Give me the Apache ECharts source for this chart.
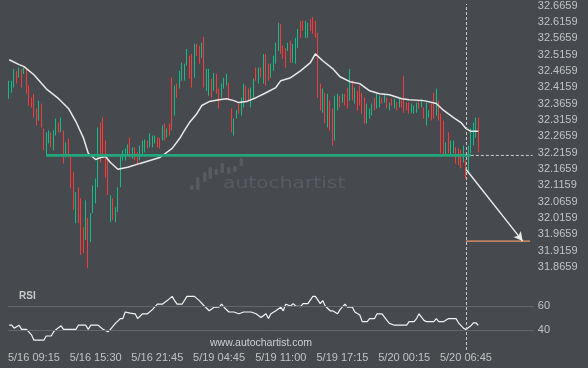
<!DOCTYPE html>
<html><head><meta charset="utf-8">
<script src="https://cdn.jsdelivr.net/npm/echarts@6/dist/echarts.min.js"></script>
<style>html,body{margin:0;padding:0;background:#464a4f;}#c{width:588px;height:368px;}</style>
</head><body><div id="c"></div>
<script>
// ---- data ----
const slotCount = 213; // bar slots on the time axis (incl. projection area)
const tickBars = [10, 35, 60, 85, 110, 135, 160, 185];
const tickLabels = ['5/16 09:15','5/16 15:30','5/16 21:45','5/19 04:45','5/19 11:00','5/19 17:15','5/20 00:15','5/20 06:45'];
const priceTicks = [31.8659,31.9159,31.9659,32.0159,32.0659,32.1159,32.1659,32.2159,32.2659,32.3159,32.3659,32.4159,32.4659,32.5159,32.5659,32.6159,32.6659];
const rsiTicks = [40, 60];
// [open, close, low, high]
const candles = [
[32.387,32.430,32.381,32.436],[32.404,32.431,32.399,32.436],[32.421,32.466,32.415,32.472],[32.461,32.432,32.427,32.466],
[32.449,32.471,32.445,32.476],[32.467,32.421,32.415,32.472],[32.459,32.473,32.457,32.476],[32.470,32.402,32.396,32.476],
[32.415,32.366,32.360,32.421],[32.380,32.358,32.354,32.384],[32.390,32.329,32.323,32.396],[32.346,32.304,32.299,32.351],
[32.320,32.369,32.314,32.375],[32.360,32.299,32.293,32.366],[32.284,32.229,32.223,32.290],[32.213,32.272,32.207,32.278],
[32.248,32.280,32.244,32.284],[32.274,32.236,32.232,32.278],[32.229,32.278,32.223,32.284],[32.273,32.315,32.268,32.320],
[32.305,32.281,32.278,32.308],[32.282,32.319,32.278,32.323],[32.278,32.190,32.183,32.284],[32.205,32.243,32.201,32.247],
[32.254,32.206,32.201,32.259],[32.201,32.113,32.107,32.207],[32.150,32.046,32.040,32.156],[32.006,32.089,32.000,32.095],
[32.104,32.006,32.000,32.110],[32.070,31.909,31.903,32.076],[31.982,31.915,31.909,31.988],[31.955,32.064,31.949,32.070],
[32.010,31.870,31.863,32.016],[31.948,32.025,31.942,32.031],[32.037,32.110,32.031,32.116],[32.067,32.131,32.061,32.137],
[32.116,32.287,32.110,32.293],[32.302,32.192,32.186,32.308],[32.317,32.207,32.201,32.323],[32.247,32.146,32.140,32.253],
[32.201,32.092,32.086,32.207],[32.009,32.080,32.003,32.086],[32.071,32.014,32.009,32.076],[32.007,32.045,32.003,32.049],
[32.040,32.104,32.034,32.110],[32.116,32.201,32.110,32.207],[32.195,32.220,32.192,32.223],[32.195,32.225,32.192,32.229],
[32.213,32.238,32.210,32.241],[32.257,32.206,32.201,32.262],[32.201,32.229,32.198,32.232],[32.228,32.196,32.192,32.232],
[32.213,32.181,32.177,32.217],[32.196,32.234,32.192,32.238],[32.211,32.249,32.207,32.253],[32.220,32.252,32.217,32.256],
[32.250,32.232,32.229,32.253],[32.236,32.271,32.232,32.275],[32.236,32.265,32.232,32.268],[32.247,32.265,32.244,32.268],
[32.259,32.235,32.232,32.262],[32.258,32.232,32.229,32.262],[32.257,32.295,32.253,32.299],[32.300,32.258,32.253,32.305],
[32.265,32.287,32.262,32.290],[32.301,32.272,32.268,32.305],[32.439,32.290,32.284,32.445],[32.335,32.415,32.329,32.421],
[32.423,32.388,32.384,32.427],[32.417,32.461,32.412,32.466],[32.441,32.486,32.436,32.491],[32.440,32.484,32.436,32.488],
[32.486,32.529,32.482,32.533],[32.507,32.447,32.442,32.512],[32.512,32.421,32.415,32.518],[32.451,32.543,32.445,32.549],
[32.546,32.515,32.512,32.549],[32.539,32.492,32.488,32.543],[32.509,32.549,32.506,32.552],[32.564,32.421,32.415,32.570],
[32.411,32.467,32.405,32.472],[32.396,32.466,32.390,32.472],[32.437,32.389,32.384,32.442],[32.410,32.455,32.405,32.460],
[32.452,32.401,32.396,32.457],[32.407,32.356,32.351,32.412],[32.388,32.423,32.384,32.427],[32.415,32.442,32.412,32.445],
[32.424,32.454,32.421,32.457],[32.425,32.380,32.375,32.430],[32.345,32.284,32.278,32.351],[32.273,32.315,32.268,32.320],
[32.322,32.343,32.320,32.345],[32.363,32.338,32.335,32.366],[32.334,32.379,32.329,32.384],[32.360,32.421,32.354,32.427],
[32.417,32.379,32.375,32.421],[32.409,32.378,32.375,32.412],[32.360,32.409,32.354,32.415],[32.389,32.437,32.384,32.442],
[32.472,32.440,32.436,32.476],[32.431,32.472,32.427,32.476],[32.473,32.448,32.445,32.476],[32.434,32.512,32.427,32.518],
[32.512,32.427,32.421,32.518],[32.484,32.440,32.436,32.488],[32.448,32.484,32.445,32.488],[32.470,32.508,32.466,32.512],
[32.494,32.546,32.488,32.552],[32.533,32.607,32.527,32.613],[32.604,32.524,32.518,32.610],[32.540,32.506,32.503,32.543],
[32.532,32.480,32.476,32.536],[32.529,32.549,32.527,32.552],[32.553,32.496,32.491,32.558],[32.495,32.545,32.491,32.549],
[32.494,32.561,32.488,32.567],[32.540,32.590,32.536,32.594],[32.615,32.571,32.567,32.619],[32.616,32.591,32.588,32.619],
[32.571,32.615,32.567,32.619],[32.571,32.609,32.567,32.613],[32.622,32.591,32.588,32.625],[32.627,32.583,32.579,32.631],
[32.615,32.571,32.567,32.619],[32.576,32.390,32.384,32.582],[32.421,32.351,32.345,32.427],[32.344,32.406,32.338,32.412],
[32.393,32.311,32.305,32.399],[32.299,32.390,32.293,32.396],[32.369,32.290,32.284,32.375],[32.345,32.244,32.238,32.351],
[32.259,32.384,32.253,32.390],[32.349,32.392,32.345,32.396],[32.387,32.357,32.354,32.390],[32.371,32.394,32.369,32.396],
[32.393,32.363,32.360,32.396],[32.410,32.356,32.351,32.415],[32.381,32.466,32.375,32.472],[32.431,32.380,32.375,32.436],
[32.370,32.411,32.366,32.415],[32.400,32.350,32.345,32.405],[32.416,32.365,32.360,32.421],[32.394,32.340,32.335,32.399],
[32.378,32.311,32.305,32.384],[32.311,32.360,32.305,32.366],[32.323,32.348,32.320,32.351],[32.332,32.363,32.329,32.366],
[32.380,32.348,32.345,32.384],[32.355,32.392,32.351,32.396],[32.357,32.387,32.354,32.390],[32.382,32.368,32.366,32.384],
[32.371,32.394,32.369,32.396],[32.381,32.354,32.351,32.384],[32.347,32.367,32.345,32.369],[32.379,32.362,32.360,32.381],
[32.354,32.378,32.351,32.381],[32.367,32.347,32.345,32.369],[32.356,32.379,32.354,32.381],[32.373,32.356,32.354,32.375],
[32.372,32.344,32.338,32.451],[32.367,32.347,32.345,32.369],[32.366,32.338,32.335,32.369],[32.341,32.363,32.338,32.366],
[32.337,32.358,32.335,32.360],[32.341,32.366,32.338,32.369],[32.373,32.353,32.351,32.375],[32.356,32.379,32.354,32.381],
[32.351,32.323,32.320,32.354],[32.305,32.363,32.299,32.369],[32.325,32.343,32.323,32.345],[32.361,32.319,32.314,32.366],
[32.390,32.325,32.320,32.399],[32.335,32.405,32.329,32.412],[32.370,32.319,32.314,32.375],[32.329,32.220,32.214,32.335],
[32.308,32.213,32.207,32.314],[32.210,32.244,32.207,32.247],[32.273,32.218,32.214,32.278],[32.211,32.249,32.207,32.253],
[32.217,32.250,32.214,32.253],[32.228,32.187,32.183,32.232],[32.225,32.181,32.177,32.229],[32.219,32.172,32.168,32.223],
[32.190,32.234,32.186,32.238],[32.188,32.141,32.137,32.192],[32.162,32.232,32.156,32.238],[32.220,32.284,32.214,32.290],
[32.243,32.303,32.238,32.308],[32.266,32.318,32.262,32.323],[32.300,32.222,32.217,32.323]
];
// moving average, [bar, price]
const maPoints = [[0,32.500],[4,32.485],[6,32.479],[10,32.454],[15,32.411],[20,32.381],[24,32.351],[27,32.311],[30,32.262],[32,32.214],[35,32.195],[37,32.201],[39,32.204],[41,32.186],[44,32.165],[48,32.171],[53,32.183],[61,32.201],[66,32.229],[69,32.259],[71,32.284],[73,32.308],[76,32.335],[78,32.360],[81,32.372],[85,32.378],[88,32.381],[91,32.375],[93,32.369],[96,32.372],[100,32.384],[104,32.399],[108,32.415],[110,32.436],[114,32.445],[118,32.466],[122,32.491],[124,32.518],[127,32.497],[131,32.473],[134,32.448],[138,32.433],[142,32.427],[146,32.405],[150,32.396],[154,32.393],[159,32.381],[162,32.378],[168,32.375],[173,32.366],[176,32.345],[180,32.323],[183,32.308],[185,32.290],[187,32.281],[190,32.281]];
// RSI, [bar, value]
const rsiPoints = [[0,44],[1,44],[2,41.5],[4,44],[5,40.5],[7,40.5],[9,36],[10,31.5],[14,31.5],[15,35],[17,35],[18,38.5],[19,40.5],[21,43.5],[22,40.5],[27,40.5],[28,44],[31,44],[32,40.5],[33,44],[36,44],[38,40.5],[40,38.5],[41,40.5],[43,45.5],[45,49.5],[46,49.5],[47,55],[49,54],[51,53.5],[52,49.5],[54,53.5],[56,53.5],[58,57],[60,61.5],[62,61.5],[64,64.5],[66,68],[67,64.5],[68,61.5],[70,61.5],[72,68],[75,68],[77,64.5],[79,60],[81,56],[83,59],[85,59],[86,61.5],[87,59],[89,55],[91,55],[93,53.5],[95,55],[98,55],[100,53.5],[102,50.5],[104,53.5],[105,49.5],[106,53.5],[108,56],[110,59],[111,56],[112,61.5],[114,60],[115,62],[116,60],[118,59.5],[119,62],[121,62],[123,68],[124,68],[126,62],[127,64.5],[128,60],[130,56],[131,56],[133,53.5],[134,57],[136,61.5],[137,59],[139,59],[140,55],[142,52.5],[143,47],[145,47],[146,49.5],[148,49.5],[149,53.5],[151,53.5],[153,48],[154,45.5],[156,44],[161,44],[162,47],[164,47],[165,49.5],[166,53.5],[168,48],[169,47],[172,47],[173,49.5],[174,47],[176,47],[178,49.5],[181,49.5],[182,46],[184,41.5],[185,40.5],[187,43.5],[188,46],[189,46],[190,44]];
const supportLevel = 32.2075;
const supportStart = 15, supportEnd = 187, extendEnd = 212;
const signalBar = 185;
const arrowStart = [185, 32.165];
const arrowEnd = [208, 31.9455];
const targetLevel = 31.9455, targetEnd = 211;

// ---- chart ----
const slots = [];
for (let i = 0; i < slotCount; i++) slots.push(String(i));
const GL = 8, GW = 525.8;
const labelColor = '#c2c2c2';
const chart = echarts.init(document.getElementById('c'), null, {renderer: 'canvas'});
const hiddenX = (gi) => ({type:'category', gridIndex: gi, data: slots, boundaryGap: true, show: false});
chart.setOption({
  backgroundColor: '#464a4f',
  animation: false,
  title: {text: 'RSI', left: 14, top: 286, textStyle: {color: '#c8c8c8', fontSize: 10, fontWeight: 'bold', fontFamily: 'Liberation Sans'}},
  grid: [
    {left: GL, width: GW, top: 4.5, height: 262.6},
    {left: GL, width: GW, top: 294, height: 48},
    {left: GL, width: GW, top: 4, height: 346}
  ],
  xAxis: [
    hiddenX(0),
    {type:'category', gridIndex: 1, data: slots, boundaryGap: true,
     axisLine:{show:false}, axisTick:{show:false}, splitLine:{show:false},
     axisLabel:{color: labelColor, fontSize: 11, fontFamily: 'Liberation Sans', margin: 10,
       interval: (idx) => tickBars.indexOf(idx) >= 0,
       formatter: (v, idx) => { const k = tickBars.indexOf(idx); return k >= 0 ? tickLabels[k] : ''; }}},
    hiddenX(2)
  ],
  yAxis: [
    {type:'value', gridIndex: 0, position:'right', min: priceTicks[0], max: priceTicks[priceTicks.length-1],
     axisLine:{show:false}, axisTick:{show:false}, splitLine:{show:false},
     axisLabel:{customValues: priceTicks, color: labelColor, fontSize: 11, fontFamily: 'Liberation Sans', margin: 4,
       formatter: (v) => v.toFixed(4)}},
    {type:'value', gridIndex: 1, position:'right', min: 30, max: 70,
     axisLine:{show:false}, axisTick:{show:false}, splitLine:{show:false},
     axisLabel:{customValues: rsiTicks, color: labelColor, fontSize: 11, fontFamily: 'Liberation Sans', margin: 4}},
    {type:'value', gridIndex: 2, min: 0, max: 1, show: false}
  ],
  series: [
    {type:'candlestick', xAxisIndex:0, yAxisIndex:0, data: candles, barWidth: 1, clip: false,
     itemStyle:{color:'#17bb85', color0:'#f43c3c', borderColor:'#17bb85', borderColor0:'#f43c3c', borderWidth: 1}},
    {type:'line', xAxisIndex:0, yAxisIndex:0, data: maPoints, showSymbol:false, symbol:'none',
     lineStyle:{color:'#e8e8e8', width:1.5}, z: 3},
    {type:'line', xAxisIndex:0, yAxisIndex:0, data: [[supportStart, supportLevel],[supportEnd, supportLevel]],
     symbol:'none', lineStyle:{color:'#21a77b', width:2.6}, z: 4},
    {type:'line', xAxisIndex:0, yAxisIndex:0, data: [[supportEnd, supportLevel],[extendEnd, supportLevel]],
     symbol:'none', lineStyle:{color:'#cfcfcf', width:1, type:[3,2]}, z: 4},
    {type:'line', xAxisIndex:0, yAxisIndex:0, data: [[signalBar, targetLevel],[targetEnd, targetLevel]],
     symbol:'none', lineStyle:{color:'#e89868', width:1.2}, z: 4,
     markLine:{silent:true, symbol:['none','arrow'], symbolSize:[7,9], label:{show:false},
       lineStyle:{color:'#ececec', width:1.4, type:'solid'},
       data:[[{coord: arrowStart}, {coord: arrowEnd}]]}},
    {type:'line', xAxisIndex:1, yAxisIndex:1, data: rsiPoints, symbol:'none',
     lineStyle:{color:'#f2f2f2', width:1.2}, z: 3,
     markLine:{silent:true, symbol:['none','none'], label:{show:false},
       lineStyle:{color:'#63676a', width:1, type:'solid'},
       data: rsiTicks.map(v => ({yAxis: v}))}},
    {type:'line', xAxisIndex:2, yAxisIndex:2, data: [], symbol:'none',
     markLine:{silent:true, symbol:['none','none'], label:{show:false},
       lineStyle:{color:'#c8c8c8', width:1, type:[3,2]},
       data:[{xAxis: signalBar}]}}
  ],
  graphic: [
    {type:'group', silent:true, z: 0, children: [
      {type:'rect', shape:{x:190,y:185,width:3.5,height:5,r:1.5}, style:{fill:'#585c61'}},
      {type:'rect', shape:{x:196,y:177,width:3.5,height:13,r:1.5}, style:{fill:'#585c61'}},
      {type:'rect', shape:{x:203,y:172,width:3.5,height:10,r:1.5}, style:{fill:'#585c61'}},
      {type:'rect', shape:{x:208.5,y:167,width:3.5,height:12,r:1.5}, style:{fill:'#585c61'}},
      {type:'rect', shape:{x:214.5,y:169,width:3.5,height:6,r:1.5}, style:{fill:'#585c61'}},
      {type:'rect', shape:{x:220.5,y:163,width:3.5,height:10,r:1.5}, style:{fill:'#585c61'}},
      {type:'rect', shape:{x:227,y:167,width:3.5,height:7,r:1.5}, style:{fill:'#585c61'}},
      {type:'rect', shape:{x:233,y:166,width:3.5,height:6,r:1.5}, style:{fill:'#585c61'}},
      {type:'rect', shape:{x:239.5,y:158,width:3.5,height:8,r:1.5}, style:{fill:'#585c61'}},
      {type:'text', x:223, y:176.5, scaleX:1.35, style:{text:'autochartist', fill:'#585c61', fontSize:15, fontFamily:'DejaVu Sans'}}
    ]},
    {type:'text', x:210, y:338.5, scaleX:1.05, silent:true, style:{text:'www.autochartist.com', fill:'#cfcfcf', fontSize:10, fontFamily:'Liberation Sans'}}
  ]
});
</script></body></html>
